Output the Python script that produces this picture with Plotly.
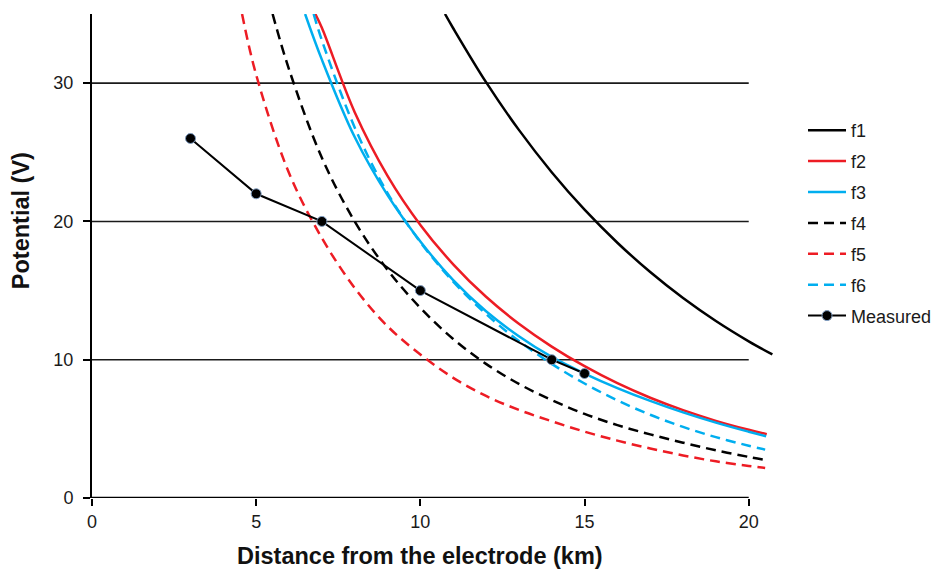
import plotly.graph_objects as go

# Potential curves f1..f6, sampled along the distance from the electrode (km)
f1_x = [10.75, 11, 12, 13, 14, 15, 16, 17, 18, 19, 20, 20.72]
f1_y = [35.0, 33.97, 30.07, 26.62, 23.56, 20.85, 18.46, 16.34, 14.46, 12.8, 11.33, 10.38]

f2_x = [6.8, 7, 8, 9, 10, 11, 12, 13, 14, 15, 16, 17, 18, 19, 20, 20.55]
f2_y = [35.0, 34.0, 27.9, 23.3, 19.75, 16.9, 14.55, 12.6, 10.95, 9.53, 8.3, 7.25, 6.35, 5.58, 4.93, 4.62]

f3_x = [6.49, 7, 8, 9, 10, 11, 12, 13, 14, 15, 16, 17, 18, 19, 20, 20.53]
f3_y = [35.0, 31.7, 26.1, 21.9, 18.55, 15.75, 13.5, 11.7, 10.2, 9.0, 7.95, 7.02, 6.19, 5.45, 4.79, 4.46]

f4_x = [5.5, 6, 7, 8, 9, 10, 11, 12, 13, 14, 15, 16, 17, 18, 19, 20, 20.5]
f4_y = [35.0, 31.0, 24.6, 20.0, 16.5, 13.75, 11.5, 9.7, 8.25, 7.08, 6.08, 5.27, 4.6, 4.0, 3.45, 2.97, 2.76]

f5_x = [4.57, 5, 6, 7, 8, 9, 10, 11, 12, 13, 14, 15, 16, 17, 18, 19, 20, 20.5]
f5_y = [35.0, 30.6, 23.5, 18.8, 15.19, 12.42, 10.38, 8.69, 7.38, 6.37, 5.55, 4.8, 4.15, 3.58, 3.08, 2.65, 2.32, 2.17]

f6_x = [6.75, 7, 8, 9, 10, 11, 12, 13, 14, 15, 16, 17, 18, 19, 20, 20.5]
f6_y = [35.0, 33.1, 26.8, 22.05, 18.5, 15.65, 13.3, 11.35, 9.7, 8.28, 7.06, 6.02, 5.14, 4.4, 3.78, 3.5]

# Measured potentials
meas_x = [3, 5, 7, 10, 14, 15]
meas_y = [26, 22, 20, 15, 10, 9]

x_ticks = [0, 5, 10, 15, 20]
y_ticks = [0, 10, 20, 30]
grid_levels = [10, 20, 30]

RED = "#ED1C24"
CYAN = "#00AEEF"
BLACK = "#000000"
DASH = "10px,6px"

fig = go.Figure()

curves = [
    ("f1", f1_x, f1_y, BLACK, "solid"),
    ("f2", f2_x, f2_y, RED, "solid"),
    ("f3", f3_x, f3_y, CYAN, "solid"),
    ("f4", f4_x, f4_y, BLACK, DASH),
    ("f5", f5_x, f5_y, RED, DASH),
    ("f6", f6_x, f6_y, CYAN, DASH),
]
for name, xs, ys, color, dash in curves:
    fig.add_trace(go.Scatter(
        x=xs, y=ys, name=name, mode="lines", legendgroup=name,
        line=dict(color=color, width=2.5, dash=dash, shape="spline", smoothing=1.0),
    ))

fig.add_trace(go.Scatter(
    x=meas_x, y=meas_y, name="Measured", mode="lines+markers", legendgroup="Measured",
    line=dict(color=BLACK, width=2),
    marker=dict(color=BLACK, size=10, line=dict(color="#7F9CC0", width=1)),
))

# horizontal reference lines and the x axis baseline, ending at x = 20
shapes = []
for g in grid_levels:
    shapes.append(dict(type="line", xref="x", yref="y", x0=0, x1=20, y0=g, y1=g,
                       line=dict(color="#1a1a1a", width=1.6), layer="below"))
shapes.append(dict(type="line", xref="x", yref="y", x0=0, x1=20, y0=0, y1=0,
                   line=dict(color=BLACK, width=2.5), layer="above"))

FONT = "Liberation Sans, Arial, sans-serif"

annotations = [
    dict(text="<b>Distance from the electrode (km)</b>", xref="x", yref="paper",
         x=10, y=-0.119, xanchor="center", yanchor="middle", showarrow=False,
         font=dict(family=FONT, size=23.5, color="#111")),
    dict(text="<b>Potential (V)</b>", xref="paper", yref="paper",
         x=-0.1035, y=0.5726, xanchor="center", yanchor="middle", showarrow=False,
         textangle=-90, font=dict(family=FONT, size=23.5, color="#111")),
]

fig.update_layout(
    width=932, height=570,
    margin=dict(l=92, r=157, t=14, b=72),
    paper_bgcolor="white", plot_bgcolor="white",
    font=dict(family=FONT, size=18, color="#1a1a1a"),
    shapes=shapes,
    annotations=annotations,
    showlegend=True,
    legend=dict(xref="container", yref="container", x=0.8616, y=0.8035,
                xanchor="left", yanchor="top",
                font=dict(size=18, color="#1a1a1a"), itemwidth=38,
                tracegroupgap=4.5, bgcolor="rgba(0,0,0,0)"),
    xaxis=dict(
        range=[0, 20.8], tickvals=x_ticks, ticks="outside", ticklen=7, tickwidth=1.5,
        tickcolor=BLACK, showgrid=False, zeroline=False, showline=False,
        automargin=False, tickfont=dict(size=18, color="#1a1a1a"),
    ),
    yaxis=dict(
        range=[0, 35], tickvals=y_ticks, ticks="outside", ticklen=7, tickwidth=1.5,
        tickcolor=BLACK, showgrid=False, zeroline=False, showline=True,
        linecolor=BLACK, linewidth=2, automargin=False,
        tickfont=dict(size=18, color="#1a1a1a"), ticklabelstandoff=6,
    ),
)

fig.write_html("out.html")
